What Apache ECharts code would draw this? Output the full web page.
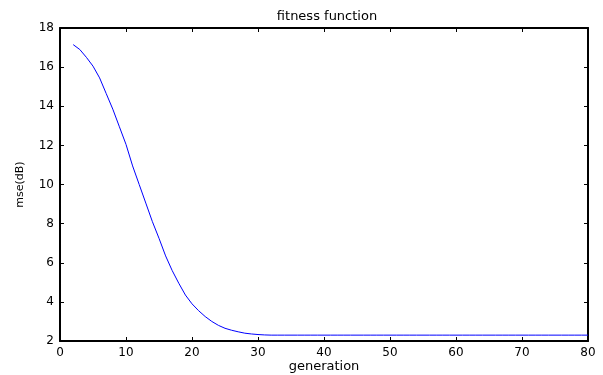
<!DOCTYPE html>
<html>
<head>
<meta charset="utf-8">
<script src="https://cdn.jsdelivr.net/npm/echarts@6/dist/echarts.min.js"></script>
<style>
  html, body { margin: 0; padding: 0; background: #fff; }
  #chart { width: 603px; height: 375px; }
</style>
</head>
<body>
<div id="chart"></div>
<script>
// fitness per generation, generation 2..80
const firstGeneration = 2;
const mse = [
  17.15, 16.9, 16.5, 16.05, 15.45, 14.65, 13.85, 12.95, 12.05, 10.95,
  10.0, 9.05, 8.1, 7.25, 6.35, 5.6, 4.95, 4.35, 3.9, 3.55,
  3.25, 3.0, 2.8, 2.65, 2.55, 2.47, 2.4, 2.36, 2.33, 2.31,
  2.3, 2.3, 2.3, 2.3, 2.3, 2.3, 2.3, 2.3, 2.3, 2.3,
  2.3, 2.3, 2.3, 2.3, 2.3, 2.3, 2.3, 2.3, 2.3, 2.3,
  2.3, 2.3, 2.3, 2.3, 2.3, 2.3, 2.3, 2.3, 2.3, 2.3,
  2.3, 2.3, 2.3, 2.3, 2.3, 2.3, 2.3, 2.3, 2.3, 2.3,
  2.3, 2.3, 2.3, 2.3, 2.3, 2.3, 2.3, 2.3, 2.3
];
const xRange = [0, 80, 10];
const yRange = [2, 18, 2];

const points = mse.map((v, i) => [firstGeneration + i, v]);

const font = 'DejaVu Sans, Arial, sans-serif';
const black = '#000';

function xAx(pos, labels) {
  return {
    type: 'value', position: pos,
    min: xRange[0], max: xRange[1], interval: xRange[2],
    name: labels ? 'generation' : '',
    nameLocation: 'middle', nameGap: 19, nameMoveOverlap: false,
    nameTextStyle: { color: black, fontFamily: font, fontSize: 13 },
    axisLine: { show: true, onZero: false, lineStyle: { color: black, width: 2 } },
    axisTick: { show: true, inside: true, length: 4, lineStyle: { color: black } },
    axisLabel: { show: labels, color: black, fontFamily: font, fontSize: 12, margin: 6 },
    splitLine: { show: false }
  };
}
function yAx(pos, labels) {
  return {
    type: 'value', position: pos,
    min: yRange[0], max: yRange[1], interval: yRange[2],
    name: labels ? 'mse(dB)' : '',
    nameLocation: 'middle', nameGap: 34, nameRotate: 90, nameMoveOverlap: false,
    nameTextStyle: { color: black, fontFamily: font, fontSize: 11 },
    axisLine: { show: true, onZero: false, lineStyle: { color: black, width: 2 } },
    axisTick: { show: true, inside: true, length: 4, lineStyle: { color: black } },
    axisLabel: { show: labels, color: black, fontFamily: font, fontSize: 12, margin: 6 },
    splitLine: { show: false }
  };
}

const chart = echarts.init(document.getElementById('chart'));
chart.setOption({
  animation: false,
  backgroundColor: '#fff',
  title: {
    text: 'fitness function',
    left: 322, top: 5, textAlign: 'center',
    textStyle: { color: black, fontFamily: font, fontSize: 13, fontWeight: 'normal' }
  },
  grid: { left: 60, right: 15, top: 28, bottom: 34, outerBoundsMode: 'none' },
  xAxis: [xAx('bottom', true), xAx('top', false)],
  yAxis: [yAx('left', true), yAx('right', false)],
  series: [{
    type: 'line',
    data: points,
    showSymbol: false,
    lineStyle: { color: '#0000ff', width: 1 },
    itemStyle: { color: '#0000ff' }
  }]
});
</script>
</body>
</html>
